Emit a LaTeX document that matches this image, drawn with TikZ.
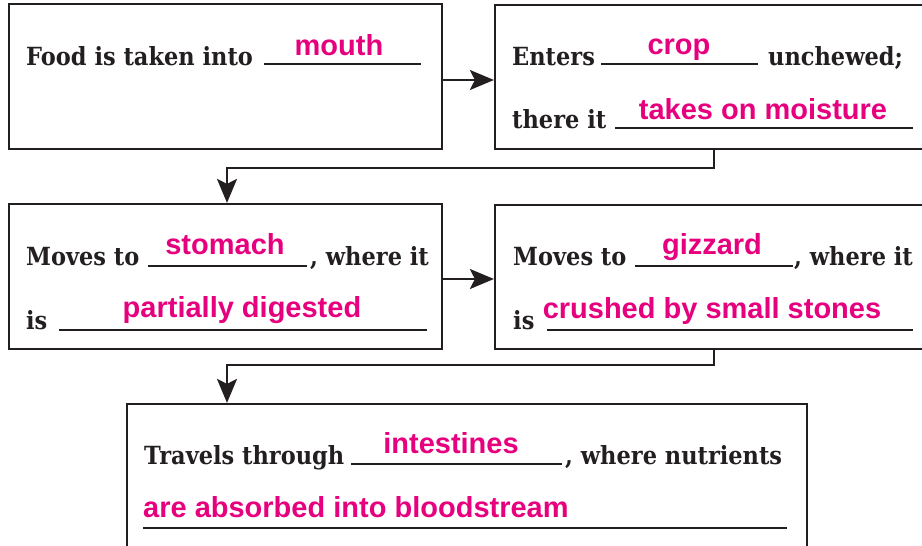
\documentclass[tikz,border=0pt]{standalone}
\usepackage{fontspec}
\setmainfont{DejaVu Serif}[FakeStretch=0.9]
\newfontfamily\answerfont{Liberation Sans}
\usetikzlibrary{arrows.meta}
\definecolor{ink}{HTML}{231F20}
\definecolor{answerpink}{HTML}{E6007E}

\begin{document}
\begin{tikzpicture}[x=1pt,y=-1pt,
  stagebox/.style={draw=ink, line width=2.2pt, rectangle, inner sep=0pt},
  prompt/.style={anchor=base west, inner sep=0pt, text=ink,
    font=\bfseries\fontsize{25}{30}\selectfont},
  answer/.style={anchor=base, inner sep=0pt, text=answerpink,
    font=\answerfont\bfseries\fontsize{29}{34}\selectfont},
  blank/.style={draw=ink, line width=2pt},
  flow/.style={draw=ink, line width=2pt,
    -{Stealth[length=24pt, width=20pt, inset=5pt]}}]

\useasboundingbox (0,0) rectangle (922,546);

% stage boxes
\node[stagebox, minimum width=433pt, minimum height=145pt] (b1) at (225.5,76.5) {};
\node[stagebox, minimum width=450pt, minimum height=144pt] (b2) at (720,77) {};
\node[stagebox, minimum width=433pt, minimum height=145pt] (b3) at (225.5,276.5) {};
\node[stagebox, minimum width=450pt, minimum height=144pt] (b4) at (720,277) {};
\node[stagebox, minimum width=680pt, minimum height=166pt] (b5) at (467,487) {};

% routing points for the connectors
\coordinate (j1) at (468,80);
\coordinate (j2) at (468,279);
\coordinate (d1) at (714,168);
\coordinate (d1e) at (227,168);
\coordinate (d2) at (714,365);
\coordinate (d2e) at (227,365);

% connectors
\draw[flow] (b1.east |- j1) -- (b2.west |- j1);
\draw[flow] (b2.south -| d1) |- (d1e) -- (b3.north -| d1e);
\draw[flow] (b3.east |- j2) -- (b4.west |- j2);
\draw[flow] (b4.south -| d2) |- (d2e) -- (b5.north -| d2e);

% box 1
\node[prompt] (t1a) at (26,65) {Food is taken into};
\draw[blank] (264,64) -- (421,64);
\node[answer] (a1a) at (339,55) {mouth};

% box 2
\node[prompt] (t2a) at (512,65) {Enters};
\draw[blank] (601,64) -- (758,64);
\node[answer] (a2a) at (679,54) {crop};
\node[prompt] (t2b) at (768,65) {unchewed;};
\node[prompt] (t2c) at (512,128) {there it};
\draw[blank] (615,128) -- (913,128);
\node[answer] (a2b) at (763,119) {takes on moisture};

% box 3
\node[prompt] (t3a) at (26,265) {Moves to};
\draw[blank] (148,266) -- (307,266);
\node[answer] (a3a) at (225,254) {stomach};
\node[prompt] (t3b) at (310,265) {, where it};
\node[prompt] (t3c) at (26,329) {is};
\draw[blank] (59,330) -- (427,330);
\node[answer] (a3b) at (242,317) {partially digested};

% box 4
\node[prompt] (t4a) at (513,265) {Moves to};
\draw[blank] (635,266) -- (793,266);
\node[answer] (a4a) at (712,254) {gizzard};
\node[prompt] (t4b) at (794,265) {, where it};
\node[prompt] (t4c) at (513,329) {is};
\draw[blank] (547,330) -- (913,330);
\node[answer] (a4b) at (712,318) {crushed by small stones};

% box 5
\node[prompt] (t5a) at (144,464) {Travels through};
\draw[blank] (351,464) -- (562,464);
\node[answer] (a5a) at (451,453) {intestines};
\node[prompt] (t5b) at (565,464) {, where nutrients};
\node[answer, anchor=base west] (a5b) at (143,517) {are absorbed into bloodstream};
\draw[blank] (143,528) -- (787,528);

\end{tikzpicture}
\end{document}
